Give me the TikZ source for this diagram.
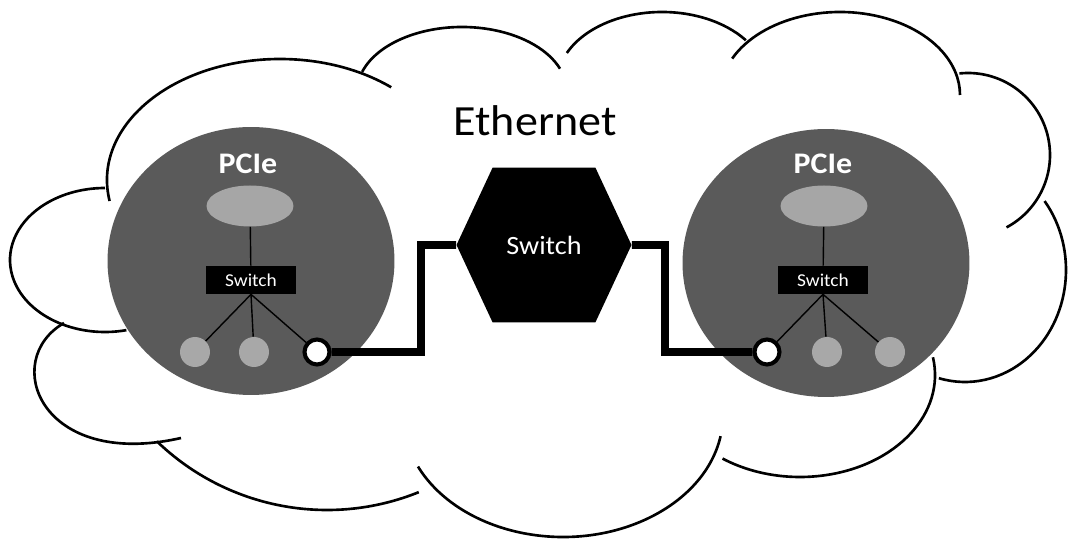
\documentclass[tikz,border=0pt]{standalone}
\usepackage{fontspec}
\setmainfont{Carlito}[FakeStretch=1.07]
\usepackage{tikz}
\usetikzlibrary{shapes.geometric,shapes.symbols}

\definecolor{domaingray}{RGB}{90,90,90}
\definecolor{rootgray}{RGB}{166,166,166}
\definecolor{leafgray}{RGB}{168,168,168}

\begin{document}
\begin{tikzpicture}
[x=0.02cm, y=-0.02cm,
puff/.style={line width=1.5pt},
pcdomain/.style={ellipse, fill=domaingray, minimum width=5.74cm, minimum height=5.36cm, inner sep=0pt},
pctitle/.style={font=\bfseries\fontsize{17}{20}\selectfont, text=white},
pcroot/.style={ellipse, fill=rootgray, minimum width=1.74cm, minimum height=0.82cm, inner sep=0pt},
pswitch/.style={fill=black, text=white, minimum width=1.8cm, minimum height=0.56cm, inner sep=0pt, font=\fontsize{10.3}{12}\selectfont},
leaf/.style={circle, fill=leafgray, minimum size=0.6cm, inner sep=0pt},
port/.style={circle, draw=black, line width=2.3pt, fill=white, minimum size=0.5cm, inner sep=0pt},
wire/.style={line width=0.8pt},
link/.style={line width=4.5pt},
hexswitch/.style={signal, signal to=east and west, signal pointer angle=130, fill=black, text=white,
  minimum width=3.5cm, minimum height=3.1cm, inner sep=0pt, font=\fontsize{15}{18}\selectfont}]

  \useasboundingbox (0,0) rectangle (1073,540);

  % cloud, one arc per puff
  \draw[puff] (105,260) ++(77:95 and 72) arc[start angle=77, end angle=270, x radius=95, y radius=72];
  \draw[puff] (280,180) ++(170:173 and 121) arc[start angle=170, end angle=310, x radius=173, y radius=121];
  \draw[puff] (462,92) ++(198:105 and 65) arc[start angle=198, end angle=339, x radius=105, y radius=65];
  \draw[puff] (662,83) ++(205:105 and 71) arc[start angle=205, end angle=323, x radius=105, y radius=71];
  \draw[puff] (840,95) ++(206:120 and 83) arc[start angle=206, end angle=360, x radius=120, y radius=83];
  \draw[puff] (968,155) ++(264:82 and 82) arc[start angle=264, end angle=422, radius=82];
  \draw[puff] (965,270) ++(-38:101 and 112) arc[start angle=-38, end angle=105, x radius=101, y radius=112];
  \draw[puff] (800,375) ++(-10:135 and 102) arc[start angle=-10, end angle=125, x radius=135, y radius=102];
  \draw[puff] (563,415) ++(10:160 and 122) arc[start angle=10, end angle=155, x radius=160, y radius=122];
  \draw[puff] (327,265) ++(68:245 and 245) arc[start angle=68, end angle=134, radius=245];
  \draw[puff] (64,323) .. controls (0,360) and (40,470) .. (181,438);

  \node[font=\fontsize{24.5}{28}\selectfont] (eth) at (535,121) {Ethernet};

  % left PCIe domain
  \node[pcdomain] (lpc) at (251,261) {};
  \node[pctitle] (ltitle) at (248,164) {PCIe};
  \node[pcroot] (lroot) at (250,206) {};
  \node[pswitch] (lsw) at (251,280) {Switch};
  \node[leaf] (l1) at (195,352) {};
  \node[leaf] (l2) at (254,352) {};
  \node[port] (lport) at (317,352) {};

  \draw[wire] (lroot) -- (lsw);
  \draw[wire] (lsw.south) -- (l1);
  \draw[wire] (lsw.south) -- (l2);
  \draw[wire] (lsw.south) -- (lport);

  % right PCIe domain
  \node[pcdomain] (rpc) at (826,263) {};
  \node[pctitle] (rtitle) at (823,164) {PCIe};
  \node[pcroot] (rroot) at (824,206) {};
  \node[pswitch] (rsw) at (823,280) {Switch};
  \node[port] (rport) at (767,352) {};
  \node[leaf] (r1) at (827,352) {};
  \node[leaf] (r2) at (890,352) {};

  \draw[wire] (rroot) -- (rsw);
  \draw[wire] (rsw.south) -- (rport);
  \draw[wire] (rsw.south) -- (r1);
  \draw[wire] (rsw.south) -- (r2);

  % ethernet switch
  \node[hexswitch] (sw) at (544,245) {Switch};

  \coordinate (lbend) at (421,245);
  \coordinate (rbend) at (665,245);
  \draw[link] (lport) -| (lbend) -- (sw);
  \draw[link] (sw) -- (rbend) |- (rport);

\end{tikzpicture}
\end{document}
